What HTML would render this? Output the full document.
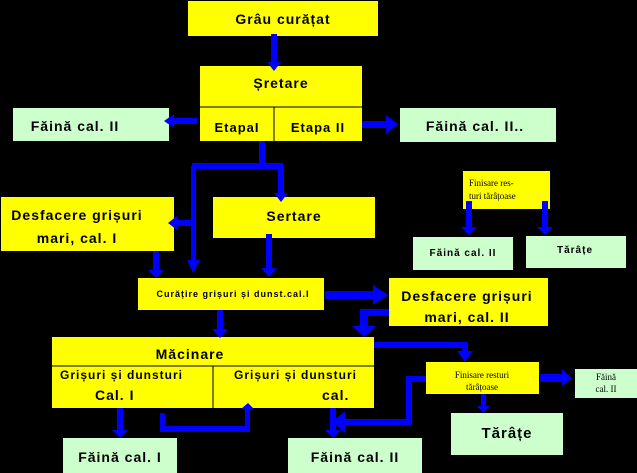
<!DOCTYPE html>
<html><head><meta charset="utf-8"><style>
html,body{margin:0;padding:0;background:#000;width:637px;height:473px;overflow:hidden}
svg{display:block}
text{font-family:"Liberation Sans",sans-serif;font-weight:bold;fill:#000;letter-spacing:1px}
.s{font-family:"Liberation Serif",serif;font-weight:normal;letter-spacing:0}
</style></head><body>
<svg width="637" height="473" viewBox="0 0 637 473" xmlns="http://www.w3.org/2000/svg">
<rect width="637" height="473" fill="#000"/>
<g fill="#ffff00">
<rect x="188" y="1" width="190" height="35"/>
<rect x="200" y="66" width="162" height="75"/>
<rect x="1" y="197" width="173" height="54"/>
<rect x="213" y="197" width="162" height="41"/>
<rect x="463" y="171" width="87" height="38"/>
<rect x="138" y="278" width="186" height="32"/>
<rect x="389" y="278" width="159" height="48"/>
<rect x="52" y="337" width="322" height="71"/>
<rect x="426" y="362" width="113" height="32"/>
</g>
<g fill="#ccffcc">
<rect x="13" y="108" width="156" height="33"/>
<rect x="400" y="108" width="156" height="34"/>
<rect x="413" y="237" width="100" height="33"/>
<rect x="526" y="236" width="100" height="32"/>
<rect x="575" y="369" width="62" height="29"/>
<rect x="451" y="413" width="112" height="42"/>
<rect x="63" y="438" width="114" height="35"/>
<rect x="288" y="438" width="134" height="35"/>
</g>
<g stroke="#000" stroke-width="1">
<line x1="200" y1="107" x2="362" y2="107"/>
<line x1="274" y1="107" x2="274" y2="141"/>
<line x1="52" y1="366" x2="374" y2="366"/>
<line x1="213" y1="366" x2="213" y2="408"/>
</g>
<g fill="#0000ff">
<rect x="271" y="34" width="6" height="30"/><polygon points="267,62 281,62 274,71"/>
<rect x="172" y="118" width="25" height="6"/><polygon points="174,114 174,128 164,121"/>
<rect x="362" y="121" width="26" height="7"/><polygon points="386,115 386,134 398,124"/>
<rect x="259" y="141" width="6" height="25"/>
<rect x="192" y="163" width="91" height="6"/>
<rect x="191" y="166" width="5" height="100"/><polygon points="187,260 200,260 193,273"/>
<rect x="175" y="220" width="17" height="6"/><polygon points="177,216 177,230 168,223"/>
<rect x="278" y="166" width="6" height="28"/><polygon points="274,193 288,193 281,202"/>
<rect x="153" y="251" width="6" height="20"/><polygon points="148,270 164,270 156,278"/>
<rect x="266" y="234" width="6" height="35"/><polygon points="261,268 277,268 269,277"/>
<rect x="325" y="291" width="50" height="8"/><polygon points="373,285 373,305 388,295"/>
<rect x="360" y="309" width="29" height="7"/><rect x="360" y="309" width="8" height="18"/><polygon points="352,326 376,326 364,337"/>
<rect x="217" y="310" width="6" height="20"/><polygon points="212,329 228,329 220,338"/>
<rect x="374" y="342" width="94" height="6"/><rect x="462" y="342" width="6" height="10"/><polygon points="457,351 473,351 465,362"/>
<rect x="540" y="374" width="24" height="8"/><polygon points="562,369 562,386 572,378"/>
<rect x="481" y="394" width="5" height="13"/><polygon points="477,406 490,406 483,413"/>
<rect x="408" y="376" width="18" height="6"/><rect x="406" y="376" width="6" height="49"/><rect x="344" y="419" width="68" height="6"/><polygon points="345,411 345,433 332,422"/>
<rect x="117" y="408" width="6" height="23"/><polygon points="112,430 128,430 120,438"/>
<rect x="160" y="413" width="5" height="17"/><rect x="160" y="426" width="90" height="6"/><rect x="245" y="408" width="5" height="24"/><polygon points="241,409 254,409 248,403"/>
<rect x="330" y="408" width="6" height="23"/><polygon points="325,430 341,430 333,438"/>
<rect x="466" y="201" width="6" height="27"/><polygon points="461,227 477,227 469,235"/>
<rect x="542" y="201" width="6" height="27"/><polygon points="537,227 553,227 545,235"/>
</g>
<g text-anchor="middle">
<text x="283" y="24" font-size="14">Grâu curățat</text>
<text x="281" y="88" font-size="14">Șretare</text>
<text x="237" y="132" font-size="13">EtapaI</text>
<text x="318" y="132" font-size="13">Etapa II</text>
<text x="75" y="131" font-size="14">Făină cal. II</text>
<text x="475" y="131" font-size="14">Făină cal. II..</text>
<text x="77" y="220" font-size="14">Desfacere grișuri</text>
<text x="77" y="243" font-size="14">mari, cal. I</text>
<text x="294" y="221" font-size="14">Sertare</text>
<text x="463" y="256" font-size="10">Făină cal. II</text>
<text x="575" y="253" font-size="10">Tărâțe</text>
<text x="233" y="297" font-size="9">Curățire grișuri și dunst.cal.I</text>
<text x="467" y="301" font-size="14">Desfacere grișuri</text>
<text x="467" y="322" font-size="14">mari, cal. II</text>
<text x="190" y="359" font-size="14">Măcinare</text>
<text x="482" y="378" font-size="9" class="s">Finisare resturi</text>
<text x="482" y="390" font-size="9" class="s">tărâțoase</text>
<text x="606" y="380" font-size="9" class="s">Făină</text>
<text x="606" y="392" font-size="9" class="s">cal. II</text>
<text x="507" y="438" font-size="15">Tărâțe</text>
<text x="120" y="462" font-size="14">Făină cal. I</text>
<text x="355" y="462" font-size="14">Făină cal. II</text>
</g>
<text x="60" y="379" font-size="12">Grișuri și dunsturi</text>
<text x="95" y="400" font-size="14">Cal. I</text>
<text x="234" y="379" font-size="12">Grișuri și dunsturi</text>
<text x="322" y="400" font-size="14">cal.</text>
<text x="469" y="186" font-size="9" class="s">Finisare res-</text>
<text x="469" y="199" font-size="9" class="s">turi tărâțoase</text>
</svg>
</body></html>
